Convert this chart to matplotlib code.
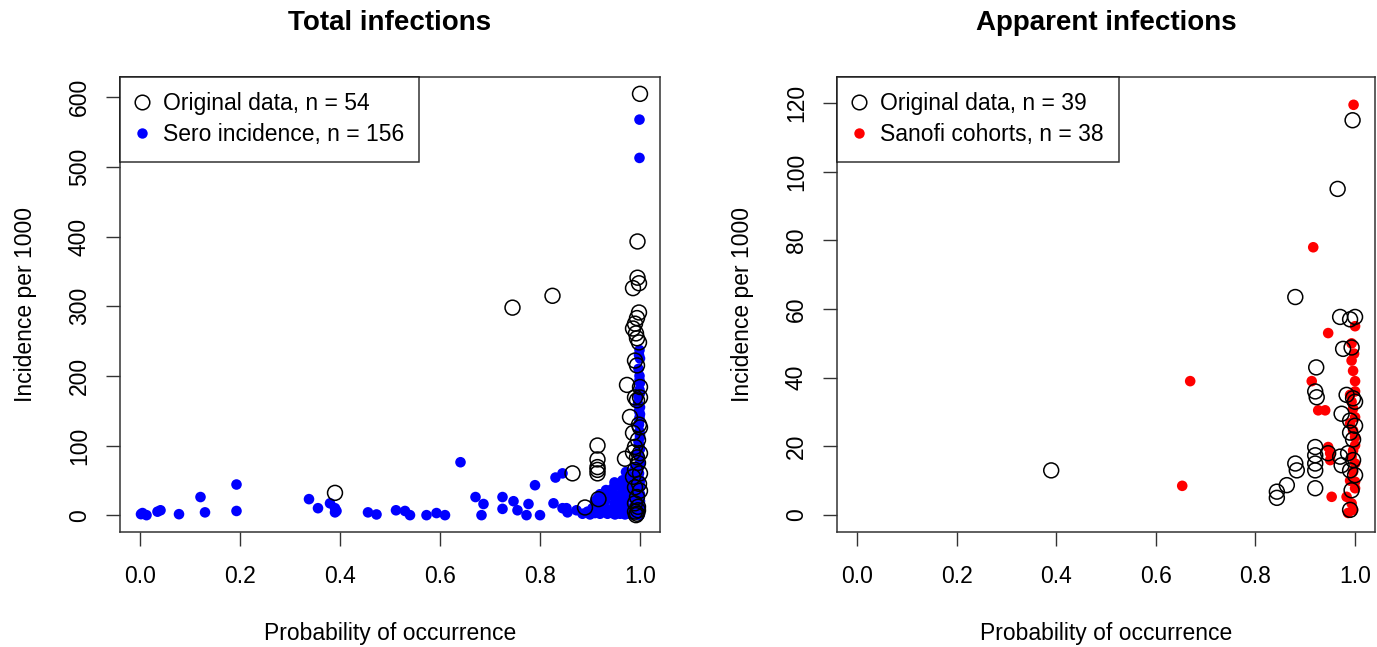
import matplotlib
matplotlib.use("Agg")
import matplotlib.pyplot as plt
from matplotlib.lines import Line2D

plt.rcParams['font.family'] = ['Liberation Sans', 'DejaVu Sans']

# ---- Total infections: original data (open circles), n = 54
tot_orig_x = [1.0, 0.995, 0.995, 0.998, 0.986, 0.745, 0.825, 0.39, 0.865, 0.915,
              0.915, 0.915, 0.915, 0.915, 0.89, 0.917, 0.998, 0.994, 0.99, 0.986,
              0.992, 0.994, 0.998, 0.99, 0.994, 0.974, 1.0, 0.99, 1.0, 0.994,
              0.98, 1.0, 0.986, 0.996, 0.99, 1.0, 0.994, 0.97, 0.996, 0.99,
              1.0, 0.986, 0.994, 0.99, 0.996, 0.992, 0.994, 0.998, 0.99, 1.0,
              0.986, 0.998, 0.996, 0.99]
tot_orig_y = [605, 393, 341, 333, 326, 298, 315, 32, 60, 100,
              80, 69, 65, 60, 11, 23, 291, 283, 275, 268,
              261, 254, 248, 222, 215, 187, 184, 169, 169, 165,
              141, 126, 118, 108, 98, 89, 83, 81, 75, 65,
              60, 55, 26, 17, 7, 0, 2, 45, 40, 35,
              90, 130, 12, 5]

# ---- Total infections: sero incidence (blue dots), n = 156
sero_x = [0.002, 0.013, 0.041, 0.078, 0.121, 0.13, 0.193, 0.193, 0.338, 0.356,
          0.38, 0.39, 0.39, 0.393, 0.456, 0.473, 0.512, 0.53, 0.54, 0.573,
          0.593, 0.61, 0.641, 0.671, 0.687, 0.683, 0.725, 0.725, 0.747, 0.755,
          0.777, 0.773, 0.79, 0.80, 0.827, 0.831, 0.845, 0.845, 0.855, 0.853,
          0.873, 0.915, 0.932, 0.949, 0.949, 0.965, 0.972, 0.959, 0.925, 0.905,
          0.972, 0.979, 0.992, 0.999, 0.999, 0.999, 1.0, 0.999, 1.0, 0.992,
          1.0, 0.99, 1.0, 0.999, 0.999, 0.999,
          0.005, 0.035, 0.885, 0.895, 0.90, 0.91, 0.92, 0.925, 0.93, 0.935,
          0.94, 0.945, 0.95, 0.955, 0.96, 0.962, 0.968, 0.97, 0.975, 0.978,
          0.98, 0.982, 0.985, 0.988, 0.99, 0.992, 0.994, 0.996, 0.998, 1.0,
          0.94, 0.945, 0.955, 0.96, 0.965, 0.97, 0.975, 0.98, 0.985, 0.99,
          0.995, 1.0, 0.995, 1.0, 0.997, 0.999, 1.0, 0.998, 0.996, 1.0,
          0.999, 0.997, 1.0, 0.998, 0.999, 1.0, 0.996, 0.999, 1.0, 0.998,
          0.999, 1.0, 0.997, 0.999, 1.0, 0.998, 0.999, 1.0, 0.995, 0.999,
          1.0, 0.998, 0.93, 0.935, 0.915, 0.92, 0.91, 0.905, 0.945, 0.95,
          0.958, 0.962, 0.968, 0.975, 0.985, 0.99]
sero_y = [1.4, 0, 7, 1.4, 26, 4, 44, 6, 23, 10,
          17, 4, 10, 6, 4, 1, 7, 6, 0, 0,
          3, 0, 76, 26, 16, 0, 26, 9, 20, 7,
          16, 0, 43, 0, 17, 54, 60, 10, 4, 10,
          7, 24, 36, 47, 17, 50, 11, 7, 7, 4,
          62, 40, 36, 237, 194, 136, 112, 83, 75, 55,
          40, 26, 7, 0, 568, 513,
          3, 5, 2, 5, 1, 3, 2, 12, 5, 2,
          8, 3, 1, 6, 2, 20, 4, 1, 3, 9,
          2, 5, 1, 3, 2, 6, 1, 4, 3, 2,
          30, 38, 28, 42, 35, 22, 30, 48, 25, 15,
          12, 20, 65, 95, 105, 120, 145, 150, 160, 175,
          200, 210, 225, 230, 70, 50, 88, 100, 115, 130,
          140, 155, 170, 180, 190, 60, 45, 30, 18, 15,
          10, 8, 20, 28, 15, 30, 20, 10, 32, 25,
          18, 22, 35, 45, 55, 68]

# ---- Apparent infections: original data (open circles), n = 39
app_orig_x = [0.39, 0.965, 0.995, 0.88, 0.97, 0.99, 1.0, 0.976, 0.993, 0.922,
              0.92, 0.923, 0.983, 0.996, 1.0, 0.973, 0.99, 1.0, 0.99, 0.996,
              0.92, 0.92, 0.946, 0.97, 0.986, 0.996, 0.88, 0.883, 0.92, 0.92,
              0.973, 0.99, 1.0, 0.863, 0.843, 0.843, 0.92, 0.993, 0.99]
app_orig_y = [13, 95, 115, 63.5, 57.7, 57, 57.7, 48.4, 48.8, 43,
              36, 34.3, 35, 34, 33, 29.5, 27.5, 26, 24, 22,
              19.8, 17.4, 18, 17, 18, 16, 15, 13, 15, 13,
              14.5, 13, 11.6, 8.7, 6.8, 5, 7.8, 7.2, 1.5]

# ---- Apparent infections: Sanofi cohorts (red dots), n = 38
sanofi_x = [0.997, 0.916, 0.669, 0.653, 0.946, 1.0, 0.998, 0.993, 0.996, 1.0,
            0.913, 0.926, 0.94, 0.99, 0.993, 0.996, 1.0, 0.99, 0.996, 1.0,
            1.0, 0.946, 0.95, 0.95, 0.996, 0.993, 1.0, 0.996, 1.0, 0.953,
            0.983, 0.993, 0.986, 1.0, 0.993, 1.0, 0.99, 0.996]
sanofi_y = [119.5, 78, 39, 8.5, 53, 55, 47, 45, 42, 39,
            39, 30.5, 30.5, 35, 33, 31, 28.5, 26.7, 24.6, 22.7,
            20.3, 19.8, 18, 16, 18.8, 17, 15, 12.6, 9.7, 5.3,
            5.3, 3.4, 0.6, 7.8, 50, 36, 10, 1.5]

x_ticks = [0.0, 0.2, 0.4, 0.6, 0.8, 1.0]
x_ticklabels = ['0.0', '0.2', '0.4', '0.6', '0.8', '1.0']

W, H = 1377, 647
fig = plt.figure(figsize=(W / 100, H / 100), dpi=100)
ax1 = fig.add_axes([120 / W, 1 - 532 / H, 540 / W, 455 / H])
ax2 = fig.add_axes([837 / W, 1 - 532 / H, 538 / W, 455 / H])

FS = 16.5
dot_s = 58
ring_s = 115


def style_axis(ax, yticks, ylim, title):
    ax.set_xlim(-0.04, 1.04)
    ax.set_ylim(*ylim)
    ax.set_xticks(x_ticks)
    ax.set_xticklabels(x_ticklabels)
    ax.set_yticks(yticks)
    ax.set_yticklabels([str(v) for v in yticks], rotation=90, va='center')
    ax.tick_params(direction='out', length=10, width=1, labelsize=FS,
                   colors='#333333', labelcolor='black')
    ax.tick_params(axis='x', pad=14)
    ax.tick_params(axis='y', pad=11)
    for sp in ax.spines.values():
        sp.set_linewidth(1.1)
        sp.set_color('#333333')
    ax.set_xlabel('Probability of occurrence', fontsize=FS, labelpad=24)
    ax.set_ylabel('Incidence per 1000', fontsize=FS, labelpad=22)
    ax.set_title(title, fontsize=20, fontweight='bold', pad=34)


# left panel
ax1.scatter(sero_x, sero_y, s=dot_s, color='#0000FF', edgecolors='none', zorder=2)
ax1.scatter(tot_orig_x, tot_orig_y, s=ring_s, facecolors='none',
            edgecolors='black', linewidths=1.1, zorder=3)
style_axis(ax1, [0, 100, 200, 300, 400, 500, 600], (-24.2, 629.2), 'Total infections')

# right panel
ax2.scatter(sanofi_x, sanofi_y, s=dot_s, color='#FF0000', edgecolors='none', zorder=2)
ax2.scatter(app_orig_x, app_orig_y, s=ring_s, facecolors='none',
            edgecolors='black', linewidths=1.1, zorder=3)
style_axis(ax2, [0, 20, 40, 60, 80, 100, 120], (-4.95, 127.6), 'Apparent infections')


def add_legend(ax, dot_color, labels):
    handles = [
        Line2D([], [], linestyle='none', marker='o', markersize=10.5,
               markerfacecolor='none', markeredgecolor='black', markeredgewidth=1.1),
        Line2D([], [], linestyle='none', marker='o', markersize=7.5,
               markerfacecolor=dot_color, markeredgecolor='none'),
    ]
    leg = ax.legend(handles, labels, loc='upper left', borderaxespad=0,
                    fontsize=FS, frameon=True, fancybox=False, handlelength=0.6,
                    handletextpad=0.59, borderpad=0.67, labelspacing=0.35)
    frame = leg.get_frame()
    frame.set_edgecolor('black')
    frame.set_linewidth(1.1)


add_legend(ax1, '#0000FF', ['Original data, n = 54', 'Sero incidence, n = 156'])
add_legend(ax2, '#FF0000', ['Original data, n = 39', 'Sanofi cohorts, n = 38'])

fig.savefig('out.png', dpi=100)
